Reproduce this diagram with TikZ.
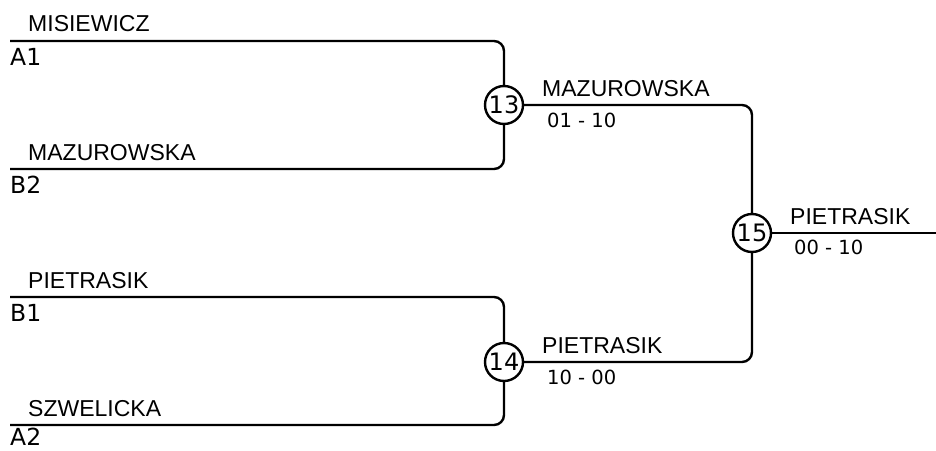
\documentclass[tikz,border=0pt]{standalone}
\usepackage{fontspec}
\setmainfont{DejaVu Sans}
\newfontfamily\namefont{Liberation Sans}
\usetikzlibrary{positioning}

\begin{document}
\begin{tikzpicture}[x=1pt,y=-1pt,
        bline/.style={line width=2.4pt,rounded corners=10pt},
        match/.style={circle,draw,fill=white,line width=2.4pt,minimum size=38pt,inner sep=0pt,font=\fontsize{24}{28}\selectfont},
        player/.style={anchor=base west,inner sep=0pt,font=\namefont\fontsize{23}{27}\selectfont},
        seed/.style={anchor=base west,inner sep=0pt,font=\fontsize{23.5}{28}\selectfont},
        score/.style={anchor=base west,inner sep=0pt,font=\fontsize{19.5}{23}\selectfont}]
        \useasboundingbox (0,0) rectangle (936,450);

        % ends of the lines
        \coordinate (a1) at (10,41);
        \coordinate (b2) at (10,169);
        \coordinate (b1) at (10,297);
        \coordinate (a2) at (10,425);
        \coordinate (out) at (936,233);

        % matches
        \node[match] at (504,105) (m13) {13};
        \node[match] at (504,362) (m14) {14};
        \node[match] at (752,233) (m15) {15};

        \draw[bline] (a1) -- (a1 -| m13) -- (m13);
        \draw[bline] (b2) -- (b2 -| m13) -- (m13);
        \draw[bline] (b1) -- (b1 -| m14) -- (m14);
        \draw[bline] (a2) -- (a2 -| m14) -- (m14);
        \draw[bline] (m13) -- (m13 -| m15) -- (m15);
        \draw[bline] (m14) -- (m14 -| m15) -- (m15);
        \draw[bline] (m15) -- (out);

        % players and seeds
        \node[player] at (28,31)  (pa1) {MISIEWICZ};
        \node[seed]   at (10,65)  (sa1) {A1};
        \node[player] at (28,160) (pb2) {MAZUROWSKA};
        \node[seed]   at (10,193) (sb2) {B2};
        \node[player] at (28,288) (pb1) {PIETRASIK};
        \node[seed]   at (10,321) (sb1) {B1};
        \node[player] at (28,416) (pa2) {SZWELICKA};
        \node[seed]   at (10,445) (sa2) {A2};

        % winners and scores
        \node[player] at (542,96)  (w13) {MAZUROWSKA};
        \node[score]  at (547,127) (r13) {01 - 10};
        \node[player] at (542,353) (w14) {PIETRASIK};
        \node[score]  at (547,384) (r14) {10 - 00};
        \node[player] at (790,224) (w15) {PIETRASIK};
        \node[score]  at (794,254) (r15) {00 - 10};
    \end{tikzpicture}
\end{document}
